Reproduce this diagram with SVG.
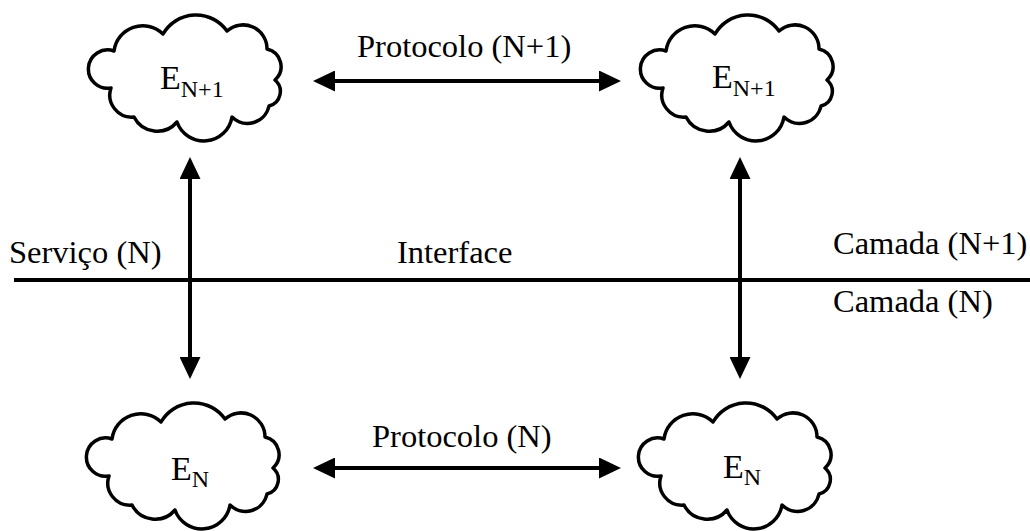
<svg xmlns="http://www.w3.org/2000/svg" xmlns:xlink="http://www.w3.org/1999/xlink" width="1030" height="531" viewBox="0 0 1030 531">
<style>
text{font-family:"Liberation Serif","Times New Roman",serif;font-size:32.5px;fill:#000}
.e{font-size:34px}
.sub{font-size:24px}
.cloud{fill:#fff;stroke:#000;stroke-width:3.5;stroke-linejoin:round}
.conn{stroke:#000;stroke-width:4;fill:none}
</style>
<defs>
<path id="cloud" d="M24,38 A29,29 0 0 1 73,21 A38,38 0 0 1 137,18 A24,24 0 0 1 177,36 A18,18 0 0 1 185,67 A15,15 0 0 1 179,93 A22,22 0 0 1 142,104 A28.5,28.5 0 0 1 87,109 A26,26 0 0 1 44,104 A22,22 0 0 1 21,75 A19.2,19.2 0 1 1 24,38 Z"/>
<marker id="ah" markerUnits="userSpaceOnUse" markerWidth="22" markerHeight="21" refX="0" refY="10.5" orient="auto-start-reverse" viewBox="0 0 22 21">
<path d="M0,0 L22,10.5 L0,21 Z" fill="#000"/>
</marker>
</defs>
<g id="connectors">
<line class="conn" x1="14" y1="280" x2="1030" y2="280"/>
<line class="conn" x1="335" y1="81" x2="599" y2="81" marker-start="url(#ah)" marker-end="url(#ah)"/>
<line class="conn" x1="335" y1="468" x2="599" y2="468" marker-start="url(#ah)" marker-end="url(#ah)"/>
<line class="conn" x1="190" y1="179" x2="190" y2="357" marker-start="url(#ah)" marker-end="url(#ah)"/>
<line class="conn" x1="740" y1="179" x2="740" y2="357" marker-start="url(#ah)" marker-end="url(#ah)"/>
</g>
<g id="node-e-n1-left">
<use xlink:href="#cloud" href="#cloud" class="cloud" transform="translate(90,13)"/>
<text class="e" x="160" y="89">E<tspan class="sub" dy="8">N+1</tspan></text>
</g>
<g id="node-e-n1-right">
<use xlink:href="#cloud" href="#cloud" class="cloud" transform="translate(642,13)"/>
<text class="e" x="712" y="88">E<tspan class="sub" dy="8">N+1</tspan></text>
</g>
<g id="node-e-n-left">
<use xlink:href="#cloud" href="#cloud" class="cloud" transform="translate(88,401)"/>
<text class="e" x="171" y="480">E<tspan class="sub" dy="7">N</tspan></text>
</g>
<g id="node-e-n-right">
<use xlink:href="#cloud" href="#cloud" class="cloud" transform="translate(640,401)"/>
<text class="e" x="723" y="478">E<tspan class="sub" dy="7">N</tspan></text>
</g>
<g id="labels">
<text x="357" y="57">Protocolo (N+1)</text>
<text x="372" y="447">Protocolo (N)</text>
<text x="9" y="263">Serviço (N)</text>
<text x="397" y="263">Interface</text>
<text x="833" y="254">Camada (N+1)</text>
<text x="833" y="312">Camada (N)</text>
</g>
</svg>
